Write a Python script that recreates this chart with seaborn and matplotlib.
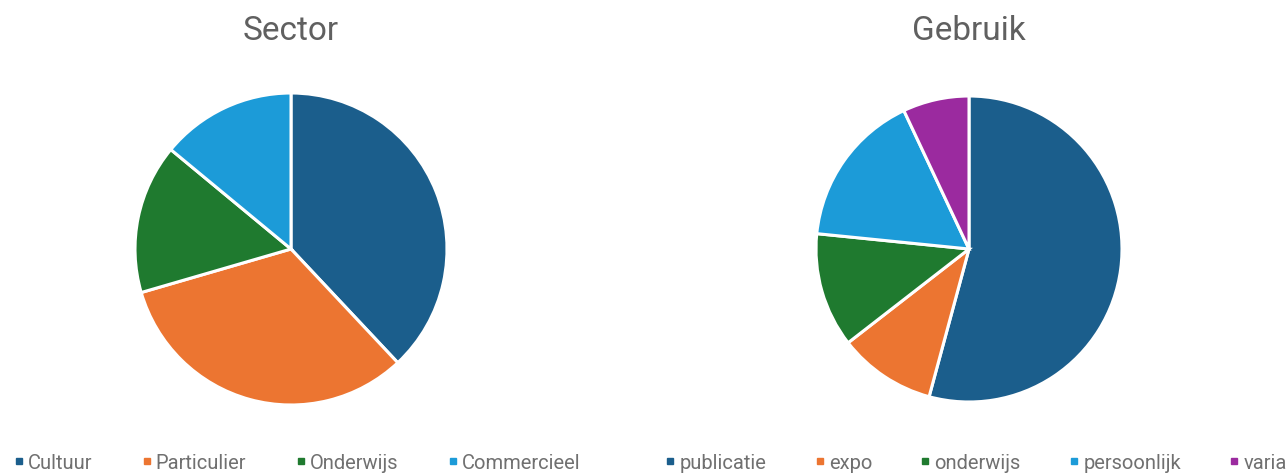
import matplotlib
matplotlib.use("Agg")
import matplotlib.pyplot as plt
from matplotlib.lines import Line2D
import seaborn as sb

# data
sector_labels = ["Cultuur", "Particulier", "Onderwijs", "Commercieel"]
sector_values = [38.0, 32.5, 15.5, 14.0]

gebruik_labels = ["publicatie", "expo", "onderwijs", "persoonlijk", "varia"]
gebruik_values = [54.2, 10.3, 12.1, 16.4, 7.0]

kleuren = ["#1b5e8c", "#ec7531", "#1f7a2f", "#1c9bd8", "#9b2a9f"]

sb.set_theme(style="white")
plt.rcParams["font.family"] = ["Roboto", "DejaVu Sans"]

W, H = 1287, 477
fig = plt.figure(figsize=(W / 100, H / 100), dpi=100)


def pie_panel(cx, cy, r, values, labels, title, leg_x, colspace):
    ax = fig.add_axes([(cx - r) / W, (H - cy - r) / H, 2 * r / W, 2 * r / H])
    assert isinstance(ax, plt.Axes)
    cols = kleuren[:len(values)]
    wedges, _ = ax.pie(values, colors=cols, startangle=90, counterclock=False,
                       wedgeprops={"edgecolor": "white", "linewidth": 2.2})
    for w in wedges:
        w.set_clip_on(False)
    ax.set_xlim(-1, 1)
    ax.set_ylim(-1, 1)
    fig.text(cx / W, 1 - 31 / H, title, ha="center", va="center",
             fontsize=24, color="#606060")
    handles = [Line2D([], [], marker="s", linestyle="", markersize=5,
                      color=c) for c in cols]
    fig.legend(handles, labels, loc="center", bbox_to_anchor=(leg_x / W, 1 - 464 / H),
               ncol=len(labels), frameon=False, fontsize=14.5,
               labelcolor="#707070", handletextpad=0.1, handlelength=0.7,
               columnspacing=colspace)


pie_panel(291, 250, 156, sector_values, sector_labels, "Sector", 296, 2.35)
pie_panel(969, 250, 153, gebruik_values, gebruik_labels, "Gebruik", 975, 2.3)

fig.savefig("out.png", dpi=100, facecolor="white")
